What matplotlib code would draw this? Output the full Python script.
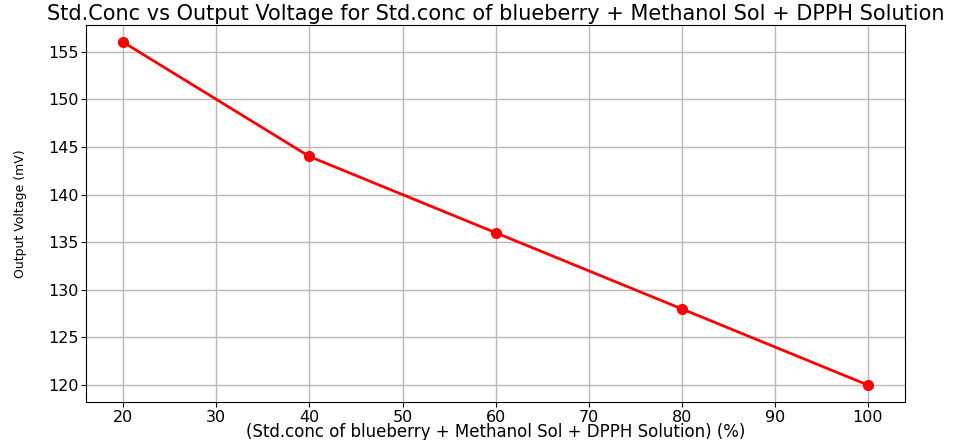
import matplotlib

matplotlib.use("Agg")
import matplotlib.pyplot as plt

conc = [20, 40, 60, 80, 100]
voltage = [156, 144, 136, 128, 120]

plt.rcParams["font.family"] = "DejaVu Sans"

fig = plt.figure(figsize=(9.67, 4.4), dpi=100)
ax = fig.add_axes([0.089, 0.086, 0.847, 0.857])
ax.plot(conc, voltage, color="red", marker="o", linewidth=2, markersize=7)

ax.set_title(
    "Std.Conc vs Output Voltage for Std.conc of blueberry + Methanol Sol + DPPH Solution",
    fontsize=15,
    pad=4,
)
ax.set_xlabel("(Std.conc of blueberry + Methanol Sol + DPPH Solution) (%)", fontsize=12, labelpad=-1)
ax.set_ylabel("Output Voltage (mV)", fontsize=9, family="DejaVu Sans Condensed", labelpad=15)
ax.tick_params(labelsize=11.5, pad=2)
ax.grid(True, color="#b8b8b8", linewidth=1)

fig.savefig("out.png", dpi=100)
